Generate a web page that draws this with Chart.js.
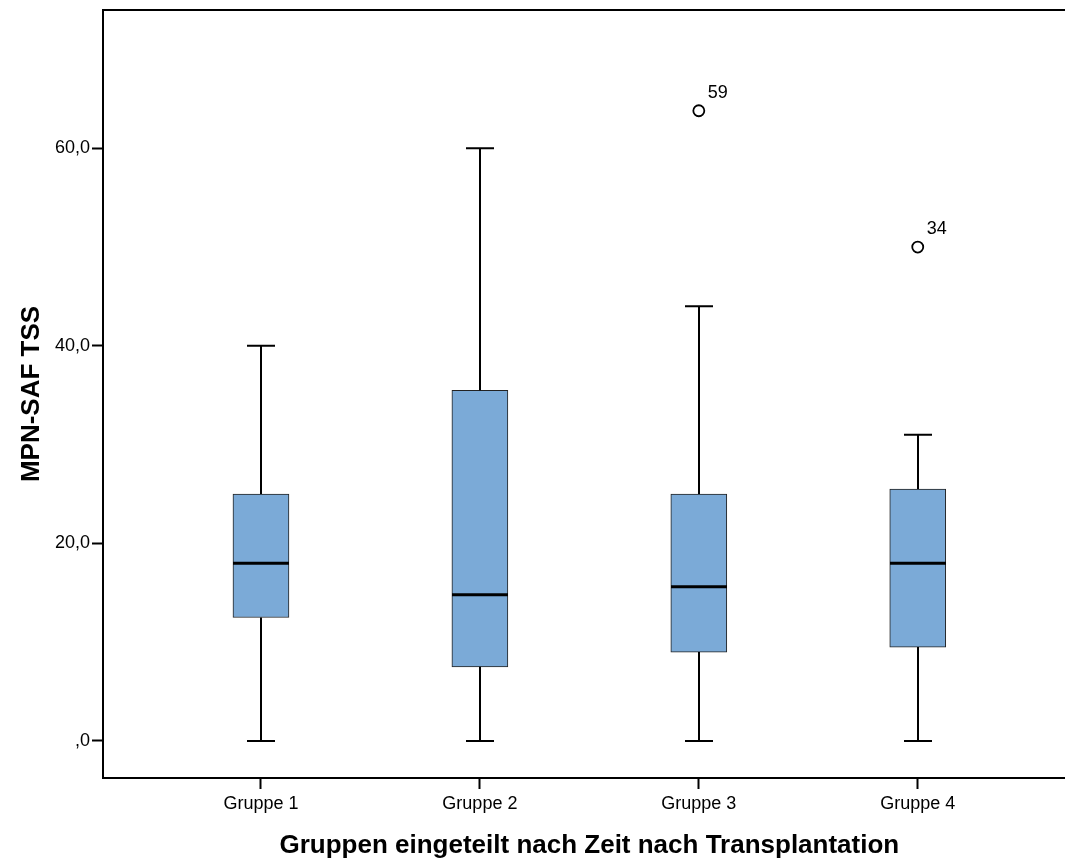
<!DOCTYPE html>
<html>
<head>
<meta charset="utf-8">
<script src="https://cdn.jsdelivr.net/npm/chart.js@4.4.0/dist/chart.umd.min.js"></script>
<style>
  html, body { margin: 0; padding: 0; background: #fff; overflow: hidden; }
  /* plot frame runs past the right edge of the picture, like the original */
  #wrap { width: 1083px; height: 858px; position: relative; }
</style>
</head>
<body>
<div id="wrap"><canvas id="chart"></canvas></div>
<script>
// boxplot data
const groups = ["Gruppe 1", "Gruppe 2", "Gruppe 3", "Gruppe 4"];
const groupPos = [1, 2, 3, 4];
const mins = [0, 0, 0, 0];
const q1 = [12.5, 7.5, 9, 9.5];
const medians = [18, 14.8, 15.6, 18];
const q3 = [25, 35.5, 25, 25.5];
const maxs = [40, 60, 44, 31];
// outliers (case numbers as labels)
const outlierPos = [3, 4];
const outlierValues = [63.8, 50];
const outlierLabels = ["59", "34"];
const yTicks = [0, 20, 40, 60];

const FONT = "'Liberation Sans', Arial, sans-serif";

// whiskers, medians, outlier labels and the top frame line
const boxExtras = {
  id: "boxExtras",
  afterDatasetsDraw(chart) {
    const ctx = chart.ctx;
    const xs = chart.scales.x, ys = chart.scales.y;
    const area = chart.chartArea;
    ctx.save();
    ctx.strokeStyle = "#000";
    ctx.lineCap = "butt";
    groupPos.forEach((g, i) => {
      const cx = Math.round(xs.getPixelForValue(g));
      ctx.lineWidth = 2;
      ctx.beginPath();
      ctx.moveTo(cx, ys.getPixelForValue(q3[i]));
      ctx.lineTo(cx, ys.getPixelForValue(maxs[i]));
      ctx.moveTo(cx, ys.getPixelForValue(q1[i]));
      ctx.lineTo(cx, ys.getPixelForValue(mins[i]));
      // caps
      ctx.moveTo(cx - 14, ys.getPixelForValue(maxs[i]));
      ctx.lineTo(cx + 14, ys.getPixelForValue(maxs[i]));
      ctx.moveTo(cx - 14, ys.getPixelForValue(mins[i]));
      ctx.lineTo(cx + 14, ys.getPixelForValue(mins[i]));
      ctx.stroke();
      // median
      ctx.lineWidth = 3;
      ctx.beginPath();
      ctx.moveTo(cx - 28, ys.getPixelForValue(medians[i]));
      ctx.lineTo(cx + 28, ys.getPixelForValue(medians[i]));
      ctx.stroke();
    });
    ctx.fillStyle = "#000";
    ctx.font = "18px " + FONT;
    ctx.textBaseline = "middle";
    ctx.textAlign = "left";
    outlierPos.forEach((g, i) => {
      ctx.fillText(outlierLabels[i], xs.getPixelForValue(g) + 9, ys.getPixelForValue(outlierValues[i]) - 18);
    });
    // top frame line
    ctx.lineWidth = 2;
    ctx.beginPath();
    ctx.moveTo(area.left, area.top);
    ctx.lineTo(chart.width, area.top);
    ctx.stroke();
    ctx.restore();
  }
};

new Chart(document.getElementById("chart"), {
  data: {
    datasets: [
      {
        type: "bar",
        data: groupPos.map((g, i) => ({ x: g, y: [q1[i], q3[i]] })),
        backgroundColor: "#7BAAD7",
        borderColor: "#222",
        borderWidth: 1,
        borderSkipped: false,
        barThickness: 56
      },
      {
        type: "scatter",
        data: outlierPos.map((g, i) => ({ x: g, y: outlierValues[i] })),
        pointStyle: "circle",
        pointRadius: 5.5,
        pointBackgroundColor: "#fff",
        pointBorderColor: "#000",
        pointBorderWidth: 1.8
      }
    ]
  },
  options: {
    responsive: true,
    maintainAspectRatio: false,
    animation: false,
    layout: { padding: { top: 10, right: 0, left: 0, bottom: 0 } },
    plugins: { legend: { display: false }, tooltip: { enabled: false } },
    scales: {
      x: {
        type: "linear",
        min: 0.2785,
        max: 4.7215,
        offset: false,
        afterBuildTicks: s => { s.ticks = groupPos.map(v => ({ value: v })); },
        afterFit: s => { s.height = 80; s.paddingRight = 0; s.paddingLeft = 0; },
        grid: { offset: false, drawOnChartArea: false, tickLength: 11, tickWidth: 2, tickColor: "#000" },
        border: { color: "#000", width: 2 },
        ticks: {
          color: "#000",
          font: { family: FONT, size: 18 },
          padding: 4,
          maxRotation: 0,
          autoSkip: false,
          callback: v => groups[v - 1]
        },
        title: {
          display: true,
          text: "Gruppen eingeteilt nach Zeit nach Transplantation",
          color: "#000",
          font: { family: FONT, size: 26, weight: "bold" },
          padding: { top: 0, bottom: -3 }
        }
      },
      y: {
        min: -3.75,
        max: 74,
        afterBuildTicks: s => { s.ticks = yTicks.map(v => ({ value: v })); },
        afterFit: s => { s.width = 103; s.paddingTop = 0; s.paddingBottom = 0; },
        grid: { drawOnChartArea: false, tickLength: 11, tickWidth: 2, tickColor: "#000" },
        border: { color: "#000", width: 2 },
        ticks: {
          color: "#000",
          font: { family: FONT, size: 18 },
          padding: 2,
          callback: v => v === 0 ? ",0" : v.toFixed(1).replace(".", ",")
        },
        title: {
          display: true,
          text: "MPN-SAF TSS",
          color: "#000",
          font: { family: FONT, size: 26, weight: "bold" },
          padding: { top: 16 }
        }
      }
    }
  },
  plugins: [boxExtras]
});
</script>
</body>
</html>
